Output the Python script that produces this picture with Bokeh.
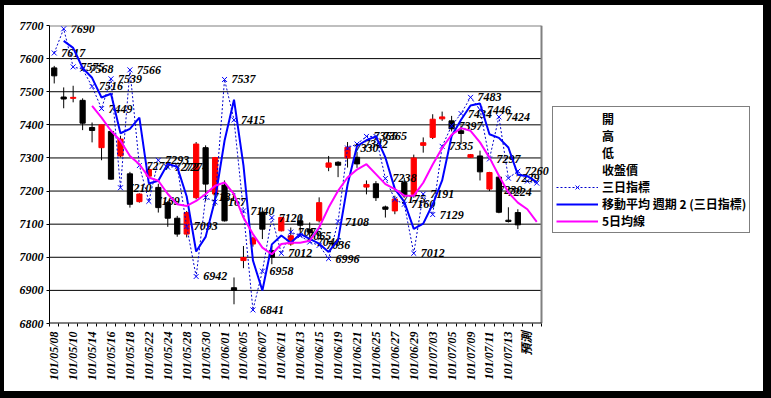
import numpy as np
from bokeh.plotting import figure
from bokeh.layouts import row
from bokeh.models import (ColumnDataSource, FixedTicker, Legend, LegendItem, Range1d)
from bokeh.core.properties import value
from bokeh.embed import file_html
from bokeh.resources import INLINE

# ---------------- data ----------------
dates = [
    "101/05/08", "101/05/09", "101/05/10", "101/05/11", "101/05/14", "101/05/15",
    "101/05/16", "101/05/17", "101/05/18", "101/05/21", "101/05/22", "101/05/23",
    "101/05/24", "101/05/25", "101/05/28", "101/05/29", "101/05/30", "101/05/31",
    "101/06/01", "101/06/04", "101/06/05", "101/06/06", "101/06/07", "101/06/08",
    "101/06/11", "101/06/12", "101/06/13", "101/06/14", "101/06/15", "101/06/18",
    "101/06/19", "101/06/20", "101/06/21", "101/06/22", "101/06/25", "101/06/26",
    "101/06/27", "101/06/28", "101/06/29", "101/07/02", "101/07/03", "101/07/04",
    "101/07/05", "101/07/06", "101/07/09", "101/07/10", "101/07/11", "101/07/12",
    "101/07/13", "101/07/16", "預測", "",
]

opens = [7572, 7484, 7480, 7474, 7392, 7331, 7380, 7306, 7252, 7168,
         7245, 7211, 7165, 7118, 7070, 7180, 7331, 7191, 7218, 6908,
         6990, 7040, 7136, 7020, 7080, 7040, 7110, 7084, 7110, 7272,
         7287, 7300, 7302, 7212, 7222, 7152, 7140, 7226, 7190, 7338,
         7362, 7418, 7412, 7382, 7302, 7306, 7206, 7242, 7112, 7135]
highs = [7578, 7513, 7518, 7480, 7407, 7400, 7385, 7367, 7258, 7193,
         7275, 7222, 7170, 7125, 7140, 7348, 7338, 7303, 7232, 6939,
         7034, 7062, 7150, 7034, 7122, 7090, 7130, 7105, 7181, 7306,
         7290, 7348, 7318, 7232, 7230, 7156, 7186, 7240, 7310, 7362,
         7432, 7440, 7427, 7397, 7312, 7322, 7258, 7246, 7151, 7145]
lows = [7525, 7450, 7468, 7384, 7347, 7293, 7234, 7302, 7150, 7165,
        7240, 7135, 7092, 7062, 7060, 7175, 7170, 7155, 7108, 6858,
        6967, 7032, 7055, 6979, 7078, 7035, 7070, 7060, 7105, 7260,
        7242, 7271, 7270, 7190, 7170, 7120, 7130, 7180, 7180, 7316,
        7357, 7412, 7380, 7342, 7300, 7232, 7200, 7133, 7105, 7085]
closes = [7548, 7478, 7483, 7405, 7383, 7400, 7236, 7357, 7160, 7191,
          7265, 7150, 7118, 7070, 7135, 7342, 7221, 7301, 7110, 6900,
          6999, 7058, 7085, 7000, 7120, 7065, 7097, 7076, 7165, 7285,
          7278, 7332, 7282, 7220, 7180, 7145, 7176, 7188, 7300, 7346,
          7417, 7424, 7388, 7374, 7310, 7258, 7256, 7136, 7108, 7098]

# 三日指標
indicator = [7617, 7690, 7575, 7568, 7516, 7449, 7539, 7210, 7566, 7277,
             7169, 7293, 7272, 7274, 7093, 6942, 7181, 7167, 7537, 7415,
             7140, 6841, 6958, 7120, 7012, 7076, 7065, 7046, 7036, 6996,
             7108, 7330, 7342, 7365, 7365, 7238, 7175, 7160, 7012, 7191,
             7129, 7335, 7397, 7434, 7483, 7446, 7297, 7424, 7239, 7260,
             7230, 7224]

# 5日均線 (starts at the 5th category)
ma5_start = 4
ma5 = [7457, 7422, 7382, 7352, 7306, 7281, 7241, 7231, 7191, 7160,
       7155, 7170, 7191, 7216, 7226, 7191, 7120, 7070, 7029, 7009,
       7040, 7044, 7044, 7050, 7090, 7150, 7201, 7241, 7265, 7281,
       7251, 7221, 7206, 7186, 7186, 7225, 7280, 7330, 7370, 7390,
       7382, 7347, 7301, 7246, 7196, 7165, 7145, 7107]

y_ticks = list(range(6800, 7701, 100))
legend_labels = ["開", "高", "低", "收盤價", "三日指標",
                 "移動平均 週期 2 (三日指標)", "5日均線"]

# ---------------- main figure ----------------
NUM_FONT = "Liberation Serif, Noto Sans CJK TC"
CJK_FONT = "Noto Sans CJK TC"
IND_LINE = "#0000CC"
IND_MARK = "#0000FF"
MA2_COLOR = "#0000FF"
MA5_COLOR = "#FF00FF"

n_cat = len(dates)
x_lo, x_hi = -0.5, n_cat - 0.5          # plot-area extent in category units
PLOT_PX = 492                            # plot-area width in pixels
EXTRA_PX = 9                             # room for data labels past the plot area
x_end = x_hi + EXTRA_PX * (x_hi - x_lo) / PLOT_PX

p = figure(width=45 + PLOT_PX + EXTRA_PX, height=386,
           x_range=Range1d(x_lo, x_end), y_range=Range1d(6800, 7700),
           output_backend="svg", toolbar_location=None,
           min_border_left=45, min_border_right=0,
           min_border_top=20, min_border_bottom=68,
           background_fill_color="white", border_fill_color="white")
p.outline_line_color = None

# grid and plot-area border drawn over the category extent only
p.xgrid.visible = False
p.ygrid.visible = False
grid_y = y_ticks[1:-1]
p.segment(x0=[x_lo] * len(grid_y), y0=grid_y, x1=[x_hi] * len(grid_y), y1=grid_y,
          line_color="black", line_width=1)
p.segment(x0=[x_lo, x_hi], y0=[y_ticks[-1], y_ticks[0]],
          x1=[x_hi, x_hi], y1=[y_ticks[-1], y_ticks[-1]],
          line_color="#808080", line_width=2)

# y axis
p.yaxis.ticker = FixedTicker(ticks=y_ticks)
p.yaxis.axis_line_color = "black"
p.yaxis.major_tick_line_color = "black"
p.yaxis.major_tick_in = 0
p.yaxis.major_tick_out = 3
p.yaxis.minor_tick_line_color = None
p.yaxis.major_label_standoff = 3
p.yaxis.major_label_text_font = NUM_FONT
p.yaxis.major_label_text_font_style = "bold italic"
p.yaxis.major_label_text_font_size = "12px"
p.yaxis.major_label_text_color = "black"

# x axis: labels every second category, tick marks between categories
label_idx = list(range(0, n_cat, 2))
p.xaxis.ticker = FixedTicker(ticks=label_idx,
                             minor_ticks=[i - 0.5 for i in range(n_cat + 1)])
p.xaxis.major_label_overrides = {i: dates[i] for i in label_idx}
p.xaxis.major_label_orientation = np.pi / 2
p.xaxis.axis_line_color = None
p.xaxis.major_tick_line_color = None
p.xaxis.major_tick_in = 0
p.xaxis.major_tick_out = 0
p.xaxis.minor_tick_line_color = "black"
p.xaxis.minor_tick_in = 0
p.xaxis.minor_tick_out = 3
p.xaxis.major_label_standoff = 5
p.xaxis.major_label_text_font = NUM_FONT
p.xaxis.major_label_text_font_style = "bold italic"
p.xaxis.major_label_text_font_size = "12px"
p.xaxis.major_label_text_color = "black"
# category-axis line over the category extent only
p.segment(x0=[x_lo], y0=[y_ticks[0]], x1=[x_hi], y1=[y_ticks[0]],
          line_color="black", line_width=2)

# ---------------- candlesticks ----------------
n_c = len(opens)
xs_c = list(range(n_c))
body_top = [max(o, c) for o, c in zip(opens, closes)]
body_bot = [min(o, c) for o, c in zip(opens, closes)]
colors = ["#FF0000" if c > o else "#000000" for o, c in zip(opens, closes)]
csrc = ColumnDataSource(dict(x=xs_c, high=highs, low=lows, top=body_top,
                             bottom=body_bot, color=colors))
p.segment(x0="x", y0="low", x1="x", y1="high", source=csrc,
          line_color="black", line_width=1)
p.vbar(x="x", width=0.55, top="top", bottom="bottom", source=csrc,
       fill_color="color", line_color="color", line_width=1)

# ---------------- 三日指標 ----------------
xs_i = list(range(len(indicator)))
isrc = ColumnDataSource(dict(x=xs_i, y=indicator))
p.line("x", "y", source=isrc, line_color=IND_LINE, line_width=1, line_dash="2 2")
p.scatter("x", "y", source=isrc, marker="x", size=7, line_color=IND_MARK, line_width=1)

# data labels: to the right of each marker; the last two, which would run
# under the legend, go to the left of their markers
n_right = len(indicator) - 2
lab_r = ColumnDataSource(dict(x=xs_i[:n_right], y=indicator[:n_right],
                              lab=[str(v) for v in indicator[:n_right]]))
lab_l = ColumnDataSource(dict(x=xs_i[n_right:], y=indicator[n_right:],
                              lab=[str(v) for v in indicator[n_right:]]))
common = dict(text="lab", text_baseline="middle", text_font=value(NUM_FONT),
              text_font_style="bold italic", text_font_size="12px",
              text_color="black")
p.text("x", "y", source=lab_r, x_offset=7, text_align="left", **common)
p.text("x", "y", source=lab_l, x_offset=-5, y_offset=9, text_align="right", **common)

# moving average trendline, period 2, of 三日指標
ma2_x = xs_i[1:]
ma2_y = [(indicator[i - 1] + indicator[i]) / 2 for i in range(1, len(indicator))]
p.line(ma2_x, ma2_y, line_color=MA2_COLOR, line_width=2)

# 5日均線
ma5_x = list(range(ma5_start, ma5_start + len(ma5)))
p.line(ma5_x, ma5, line_color=MA5_COLOR, line_width=2)

# ---------------- legend panel ----------------
lf = figure(width=759 - (45 + PLOT_PX + EXTRA_PX), height=386,
            x_range=Range1d(0, 1), y_range=Range1d(0, 1),
            output_backend="svg", toolbar_location=None,
            x_axis_type=None, y_axis_type=None, min_border=0,
            background_fill_color="white", border_fill_color="white")
lf.outline_line_color = None
lf.grid.visible = False

off = [-10, -9]
g_none = lf.line(off, off, line_alpha=0)
g_ind_l = lf.line(off, off, line_color=IND_LINE, line_width=1, line_dash="2 2")
g_ind_m = lf.scatter(off, off, marker="x", size=7, line_color=IND_MARK, line_width=1)
g_ma2 = lf.line(off, off, line_color=MA2_COLOR, line_width=2)
g_ma5 = lf.line(off, off, line_color=MA5_COLOR, line_width=2)

renderers = [[g_none], [g_none], [g_none], [g_none], [g_ind_l, g_ind_m], [g_ma2], [g_ma5]]
legend = Legend(items=[LegendItem(label=lab, renderers=r)
                       for lab, r in zip(legend_labels, renderers)],
                location=(2, 90))
legend.label_text_font = CJK_FONT
legend.label_text_font_size = "12px"
legend.label_text_font_style = "bold"
legend.label_text_color = "black"
legend.glyph_width = 42
legend.glyph_height = 14
legend.label_height = 14
legend.label_standoff = 4
legend.spacing = -2
legend.padding = 3
legend.margin = 0
legend.border_line_color = "black"
legend.border_line_width = 1
legend.background_fill_color = "white"
legend.background_fill_alpha = 1
lf.add_layout(legend, "center")

lay = row(p, lf, spacing=0)
lay.styles = {"box-sizing": "content-box", "border-style": "solid",
              "border-color": "black",
              "border-top-width": "5px", "border-left-width": "4px",
              "border-right-width": "8px", "border-bottom-width": "7px"}

open("out.html", "w").write(file_html(lay, INLINE))
